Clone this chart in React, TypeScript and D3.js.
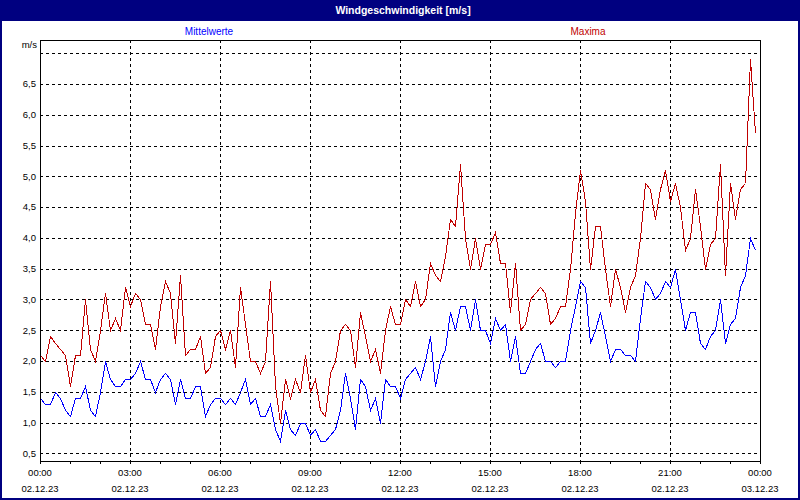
import React from "react";
import * as d3 from "d3";

const title = "Windgeschwindigkeit [m/s]";
const seriesNames = ["Mittelwerte", "Maxima"];
const seriesColors = ["#0000FF", "#C00000"];
const unitLabel = "m/s";

// 10-minute samples starting 02.12.23 00:00
const stepMinutes = 10;

const mittelwerte = [
  1.4, 1.3, 1.3, 1.5, 1.4, 1.2, 1.1, 1.4, 1.4, 1.6, 1.2, 1.1, 1.5, 2.0, 1.7, 1.6, 1.6, 1.7,
  1.7, 1.8, 2.0, 1.7, 1.7, 1.5, 1.7, 1.8, 1.7, 1.3, 1.7, 1.4, 1.4, 1.6, 1.6, 1.1, 1.3, 1.4,
  1.4, 1.3, 1.4, 1.3, 1.5, 1.7, 1.3, 1.4, 1.1, 1.1, 1.3, 0.9, 0.7, 1.2, 0.9, 0.8, 1.0, 1.0,
  0.8, 0.9, 0.7, 0.7, 0.8, 0.9, 1.2, 1.8, 1.4, 0.9, 1.7, 1.6, 1.2, 1.4, 1.0, 1.7, 1.6, 1.6,
  1.4, 1.7, 1.8, 1.9, 1.7, 2.0, 2.4, 1.6, 2.0, 2.2, 2.8, 2.5, 2.9, 2.9, 2.5, 3.0, 2.5, 2.5,
  2.3, 2.7, 2.5, 2.6, 2.0, 2.4, 1.8, 1.8, 2.0, 2.2, 2.3, 2.0, 2.0, 1.9, 2.0, 2.0, 2.5, 2.9,
  3.3, 3.2, 2.3, 2.5, 2.8, 2.4, 2.0, 2.2, 2.2, 2.1, 2.1, 2.0, 2.7, 3.3, 3.2, 3.0, 3.1, 3.3,
  3.2, 3.5, 3.0, 2.5, 2.8, 2.8, 2.3, 2.2, 2.4, 2.5, 3.0, 2.3, 2.6, 2.7, 3.2, 3.4, 4.0, 3.8,
];

const maxima = [
  2.1, 2.0, 2.4, 2.3, 2.2, 2.1, 1.6, 2.1, 2.1, 3.0, 2.2, 2.0, 2.5, 3.1, 2.5, 2.7, 2.5, 3.2,
  2.9, 3.1, 3.0, 2.6, 2.6, 2.2, 2.9, 3.3, 3.1, 2.3, 3.4, 2.1, 2.2, 2.2, 2.4, 1.8, 1.9, 2.4,
  2.5, 2.2, 2.5, 1.9, 3.2, 2.6, 2.0, 2.0, 1.8, 2.0, 3.3, 1.6, 1.0, 1.7, 1.4, 1.7, 1.5, 2.1,
  1.5, 1.7, 1.2, 1.1, 1.8, 2.0, 2.5, 2.6, 2.5, 1.9, 2.8, 2.4, 2.0, 2.2, 1.8, 2.5, 2.9, 2.6,
  2.6, 3.0, 2.9, 3.3, 2.9, 3.0, 3.6, 3.4, 3.3, 3.7, 4.3, 4.2, 5.2, 4.0, 3.5, 4.0, 3.5, 3.9,
  3.9, 4.1, 3.6, 3.6, 2.8, 3.6, 2.5, 2.6, 3.0, 3.1, 3.2, 3.1, 2.6, 2.7, 2.9, 2.9, 3.5, 4.4,
  5.1, 4.6, 3.5, 4.2, 4.2, 3.5, 2.9, 3.5, 3.2, 2.8, 3.2, 3.4, 4.0, 4.9, 4.8, 4.3, 4.8, 5.1,
  4.6, 4.9, 4.5, 3.8, 4.0, 4.8, 4.2, 3.5, 3.9, 4.0, 5.2, 3.4, 4.9, 4.3, 4.8, 4.9, 6.9, 5.7,
];

const yTicks = [0.5, 1.0, 1.5, 2.0, 2.5, 3.0, 3.5, 4.0, 4.5, 5.0, 5.5, 6.0, 6.5, 7.0];
const yTickLabels = ["0,5", "1,0", "1,5", "2,0", "2,5", "3,0", "3,5", "4,0", "4,5", "5,0", "5,5", "6,0", "6,5", ""];
const xMajorHours = [0, 3, 6, 9, 12, 15, 18, 21, 24];
const xTimeLabels = ["00:00", "03:00", "06:00", "09:00", "12:00", "15:00", "18:00", "21:00", "00:00"];
const xDateLabels = ["02.12.23", "02.12.23", "02.12.23", "02.12.23", "02.12.23", "02.12.23", "02.12.23", "02.12.23", "03.12.23"];
const xMinorHours = d3.range(0, 25);

const W = 800;
const H = 500;
const plot = { left: 40, right: 760, top: 40, bottom: 461 };
const font = "'Liberation Sans', Arial, sans-serif";

export default function App() {
  const x = d3.scaleLinear().domain([0, 24 * 60]).range([plot.left, plot.right]);
  const y = d3.scaleLinear().domain([0.375, 7.216]).range([plot.bottom, plot.top]);

  const line = d3
    .line<number>()
    .x((_, i) => x(i * stepMinutes) + 0.5)
    .y((d) => Math.round(y(d)) + 0.5);

  return (
    <svg width={W} height={H} style={{ position: "absolute", left: 0, top: 0, background: "#fff" }}>
      <rect x={0} y={0} width={W} height={H} fill="#fff" />
      {/* title bar */}
      <rect x={0} y={0} width={W} height={21} fill="#000080" />
      <text x={403} y={10.5} dy="0.35em" textAnchor="middle" fill="#fff" fontFamily={font} fontWeight="bold" fontSize={10.5}>
        {title}
      </text>
      {/* outer frame */}
      <rect x={1} y={1} width={W - 2} height={H - 2} fill="none" stroke="#000080" strokeWidth={2} />

      {/* legend */}
      <text x={209} y={31} dy="0.35em" textAnchor="middle" fill={seriesColors[0]} fontFamily={font} fontSize={10}>
        {seriesNames[0]}
      </text>
      <text x={588} y={31} dy="0.35em" textAnchor="middle" fill={seriesColors[1]} fontFamily={font} fontSize={10}>
        {seriesNames[1]}
      </text>

      {/* horizontal grid */}
      {yTicks.map((v) => (
        <line
          key={"h" + v}
          x1={plot.left}
          x2={plot.right}
          y1={Math.round(y(v)) + 0.5}
          y2={Math.round(y(v)) + 0.5}
          stroke="#000"
          strokeDasharray="3,3"
          shapeRendering="crispEdges"
        />
      ))}
      {/* vertical grid */}
      {xMajorHours.slice(1, -1).map((h) => (
        <line
          key={"v" + h}
          x1={Math.round(x(h * 60)) + 0.5}
          x2={Math.round(x(h * 60)) + 0.5}
          y1={plot.top}
          y2={plot.bottom}
          stroke="#000"
          strokeDasharray="3,3"
          shapeRendering="crispEdges"
        />
      ))}

      {/* y labels */}
      {yTicks.map((v, i) => (
        <text key={"yl" + v} x={36} y={y(v)} dy="0.35em" textAnchor="end" fill="#000" fontFamily={font} fontSize={9.5}>
          {yTickLabels[i]}
        </text>
      ))}
      <text x={37} y={45} dy="0.35em" textAnchor="end" fill="#000" fontFamily={font} fontSize={9.5}>
        {unitLabel}
      </text>

      {/* x ticks */}
      {xMinorHours.map((h) => (
        <line
          key={"t" + h}
          x1={Math.round(x(h * 60)) + 0.5}
          x2={Math.round(x(h * 60)) + 0.5}
          y1={plot.bottom}
          y2={plot.bottom + 3}
          stroke="#000"
          shapeRendering="crispEdges"
        />
      ))}
      {xMajorHours.map((h, i) => (
        <g key={"xl" + h}>
          <text x={x(h * 60)} y={473} dy="0.35em" textAnchor="middle" fill="#000" fontFamily={font} fontSize={9.5}>
            {xTimeLabels[i]}
          </text>
          <text x={x(h * 60)} y={489} dy="0.35em" textAnchor="middle" fill="#000" fontFamily={font} fontSize={9.5}>
            {xDateLabels[i]}
          </text>
        </g>
      ))}

      {/* data lines */}
      <path d={line(maxima) || ""} fill="none" stroke={seriesColors[1]} strokeWidth={1} shapeRendering="crispEdges" />
      <path d={line(mittelwerte) || ""} fill="none" stroke={seriesColors[0]} strokeWidth={1} shapeRendering="crispEdges" />

      {/* plot frame */}
      <rect
        x={plot.left + 0.5}
        y={plot.top + 0.5}
        width={plot.right - plot.left}
        height={plot.bottom - plot.top}
        fill="none"
        stroke="#000"
        strokeWidth={1}
        shapeRendering="crispEdges"
      />
    </svg>
  );
}
